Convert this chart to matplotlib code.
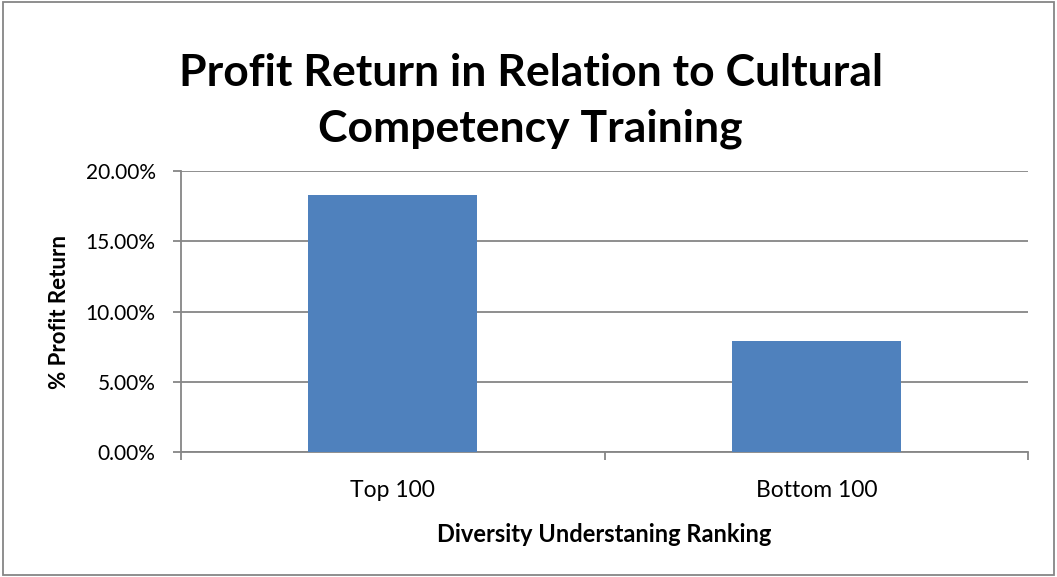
import matplotlib
matplotlib.use("Agg")
import matplotlib.pyplot as plt
from matplotlib.patches import Rectangle
from matplotlib.ticker import FuncFormatter, FixedLocator

categories = ["Top 100", "Bottom 100"]
profit_return = [18.27, 7.88]  # percent
y_ticks = [0, 5, 10, 15, 20]

plt.rcParams["font.family"] = ["Lato", "DejaVu Sans"]

fig = plt.figure(figsize=(10.57, 5.77), dpi=100)
ax = fig.add_axes([0.171, 0.216, 0.802, 0.488])

x = list(range(len(categories)))
ax.bar(x, profit_return, width=0.4, color="#4F81BD", zorder=3)

ax.set_xlim(-0.5, len(categories) - 0.5)
ax.set_ylim(0, 20)
ax.set_yticks(y_ticks)
ax.yaxis.set_major_formatter(FuncFormatter(lambda v, _: f"{v:.2f}%"))
ax.grid(True, axis="y", color="#868686", linewidth=1.3, zorder=0)

# category labels centred, tick marks between categories
ax.set_xticks(x)
ax.set_xticklabels(categories)
ax.xaxis.set_minor_locator(FixedLocator([-0.5, 0.5, 1.5]))
ax.tick_params(axis="x", which="major", length=0, pad=20, labelsize=16.5)
ax.tick_params(axis="x", which="minor", length=6, width=1.3, color="#868686", direction="out")
ax.tick_params(axis="y", length=6, width=1.3, color="#868686", pad=12, labelsize=15)

for side in ["top", "right"]:
    ax.spines[side].set_visible(False)
for side in ["left", "bottom"]:
    ax.spines[side].set_color("#868686")
    ax.spines[side].set_linewidth(1.3)

ax.set_xlabel("Diversity Understaning Ranking", fontsize=17, fontweight="bold", labelpad=16)
ax.set_ylabel("% Profit Return", fontsize=16, fontweight="bold", labelpad=11)

fig.text(0.502, 0.873, "Profit Return in Relation to Cultural", ha="center", va="center",
         fontsize=32, fontweight="bold")
fig.text(0.502, 0.776, "Competency Training", ha="center", va="center",
         fontsize=32, fontweight="bold")

fig.patches.append(Rectangle((0.003, 0.004), 0.994, 0.992, transform=fig.transFigure,
                             fill=False, edgecolor="#868686", linewidth=1.3))

fig.savefig("out.png", dpi=100)
